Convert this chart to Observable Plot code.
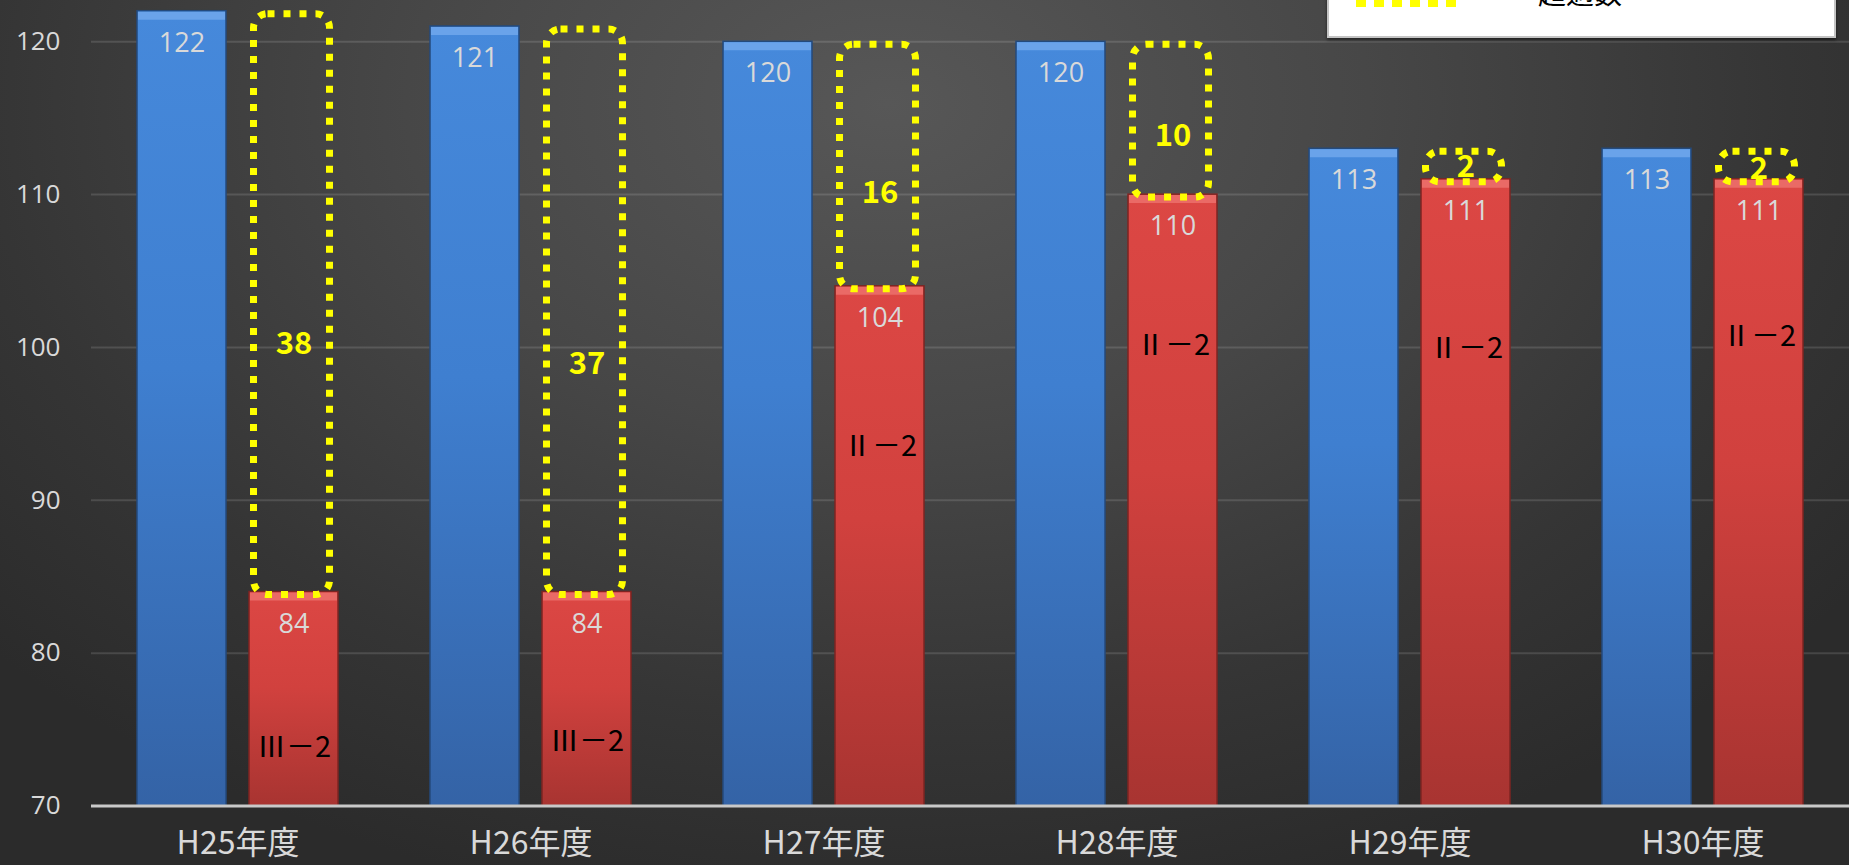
<!DOCTYPE html>
<html>
<head>
<meta charset="utf-8">
<script src="https://cdn.jsdelivr.net/npm/d3@7"></script>
<script src="https://cdn.jsdelivr.net/npm/@observablehq/plot@0.6"></script>
<style>
  html, body { margin: 0; padding: 0; }
  body {
    width: 1849px; height: 865px; overflow: hidden;
    background: radial-gradient(ellipse 65% 95% at 48% 12%, #575757 0%, #474747 40%, #353535 75%, #2b2b2b 100%);
  }
  #wrap { position: relative; width: 1849px; height: 865px; overflow: hidden; }
  #legend {
    position: absolute; left: 1327px; top: -41px; width: 505px; height: 75px;
    background: #ffffff; border: 2px solid #c4c4c4; box-shadow: 0 2px 3px rgba(0,0,0,0.5);
  }
  #legend svg { position: absolute; left: 0; top: 0; }
  #legend .txt {
    position: absolute; left: 209px; top: 17px; font: 28px/28px "Noto Sans CJK JP", sans-serif; color: #000;
  }
</style>
</head>
<body>
<div id="wrap">
  <div id="chart"></div>
  <div id="legend">
    <svg width="505" height="75"><line x1="27" x2="133" y1="42.5" y2="42.5" stroke="#ffff00" stroke-width="7" stroke-dasharray="10,8"></line></svg>
    <div class="txt">超過数</div>
  </div>
</div>
<script>
// ---- data ----
const years = ["H25年度", "H26年度", "H27年度", "H28年度", "H29年度", "H30年度"];
const capacity = [122, 121, 120, 120, 113, 113];   // blue bars
const actual = [84, 84, 104, 110, 111, 111];        // red bars
const excess = [38, 37, 16, 10, 2, 2];              // yellow dotted boxes
const grades = ["Ⅲ－2", "Ⅲ－2", "Ⅱ－2", "Ⅱ－2", "Ⅱ－2", "Ⅱ－2"];
const gradeAt = [73.8, 74.2, 93.5, 100.1, 99.9, 100.7];     // value where the grade label sits
const excessAt = [100.2, 98.9, 110.1, 113.8, 111.8, 111.7]; // value where the excess number sits
const yTicks = [70, 80, 90, 100, 110, 120];
const seriesKeys = ["cap", "act"];

// ---- tables ----
const rows = years.map((year, i) => ({
  year, capacity: capacity[i], actual: actual[i], excess: excess[i],
  grade: grades[i], gradeAt: gradeAt[i], excessAt: excessAt[i]
}));
const blueBars = rows.map(r => ({year: r.year, series: "cap", value: r.capacity}));
const redBars = rows.map(r => ({year: r.year, series: "act", value: r.actual}));
const allBars = blueBars.concat(redBars);

const W = 1849, H = 865;
const chart = Plot.plot({
  width: W,
  height: H,
  marginLeft: 90,
  marginRight: 0,
  marginTop: 0,
  marginBottom: 59.5,
  style: {background: "transparent", color: "#d9d9d9", overflow: "visible"},
  fx: {domain: years, padding: 0, label: null, axis: null},
  x: {domain: seriesKeys, paddingInner: 0.205, paddingOuter: 0.41, axis: null},
  y: {domain: [70, 122.7], axis: null},
  marks: [
    Plot.gridY(yTicks.slice(1), {stroke: "#ffffff", strokeOpacity: 0.13, strokeWidth: 2}),
    Plot.axisY({ticks: yTicks, tickSize: 0, tickPadding: 31, fontSize: 26, fontFamily: "Open Sans", color: "#d9d9d9", label: null}),
    Plot.axisFx({anchor: "bottom", tickSize: 0, tickPadding: 25, fontSize: 32, fontFamily: "Noto Sans CJK JP", color: "#d9d9d9", label: null}),
    Plot.barY(blueBars, {fx: "year", x: "series", y1: 70, y2: "value", fill: "url(#gBlue)", stroke: "#244a7c", strokeWidth: 1.5}),
    Plot.barY(redBars, {fx: "year", x: "series", y1: 70, y2: "value", fill: "url(#gRed)", stroke: "#7e2422", strokeWidth: 1.5}),
    Plot.tickY(blueBars, {fx: "year", x: "series", y: "value", stroke: "#6aa3ea", strokeWidth: 8, dy: 4.5, insetLeft: 1, insetRight: 1}),
    Plot.tickY(redBars, {fx: "year", x: "series", y: "value", stroke: "#ea6a66", strokeWidth: 8, dy: 4.5, insetLeft: 1, insetRight: 1}),
    Plot.ruleY([70], {stroke: "#c9c9c9", strokeWidth: 3}),
    Plot.text(allBars, {fx: "year", x: "series", y: "value", text: "value", dy: 32, fill: "#d9d9d9", fontSize: 27, fontFamily: "Open Sans"}),
    Plot.text(rows, {fx: "year", x: () => "act", y: "gradeAt", text: "grade", fill: "#000000", fontSize: 29, fontFamily: "Noto Sans CJK JP"}),
    Plot.rectY(rows, {fx: "year", x: () => "act", y1: "actual", y2: "capacity", insetTop: 3, insetBottom: -3, insetLeft: 4.5, insetRight: 8.5, rx: 14, fill: "none", stroke: "#ffff00", strokeWidth: 7, strokeDasharray: "7,9"}),
    Plot.text(rows, {fx: "year", x: () => "act", y: "excessAt", text: "excess", fill: "#ffff00", fontSize: 31, fontWeight: "bold", fontFamily: "Noto Sans CJK JP"})
  ]
});

// gradients for the bar body shading
const defs = d3.select(chart).insert("defs", ":first-child");
function grad(id, stops) {
  const g = defs.append("linearGradient").attr("id", id).attr("x1", 0).attr("y1", 0).attr("x2", 0).attr("y2", 1);
  stops.forEach(([o, c]) => g.append("stop").attr("offset", o).attr("stop-color", c));
}
grad("gBlue", [[0, "#4689db"], [0.45, "#3f7fd0"], [1, "#3463a6"]]);
grad("gRed", [[0, "#dc4744"], [0.45, "#d1413e"], [1, "#a83431"]]);

document.getElementById("chart").appendChild(chart);
</script>
</body>
</html>
